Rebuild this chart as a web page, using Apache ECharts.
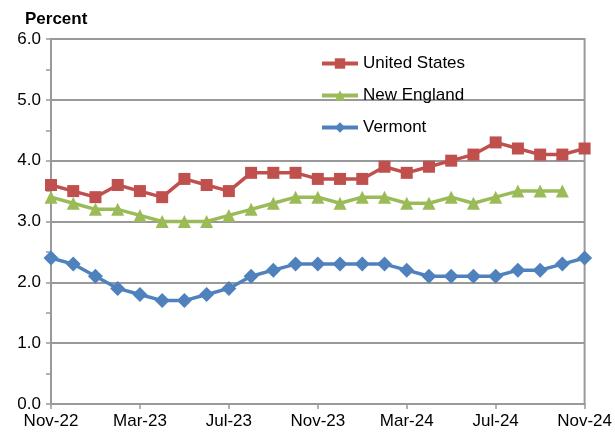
<!DOCTYPE html>
<html>
<head>
<meta charset="utf-8">
<script src="https://cdn.jsdelivr.net/npm/echarts@6/dist/echarts.min.js"></script>
<style>html,body{margin:0;padding:0;background:#fff}#c{width:615px;height:435px}</style>
</head>
<body>
<div id="c"></div>
<script>
var categories = ["Nov-22","Dec-22","Jan-23","Feb-23","Mar-23","Apr-23","May-23","Jun-23","Jul-23","Aug-23","Sep-23","Oct-23","Nov-23","Dec-23","Jan-24","Feb-24","Mar-24","Apr-24","May-24","Jun-24","Jul-24","Aug-24","Sep-24","Oct-24","Nov-24"];
var unitedStates = [3.6,3.5,3.4,3.6,3.5,3.4,3.7,3.6,3.5,3.8,3.8,3.8,3.7,3.7,3.7,3.9,3.8,3.9,4.0,4.1,4.3,4.2,4.1,4.1,4.2];
var newEngland = [3.4,3.3,3.2,3.2,3.1,3.0,3.0,3.0,3.1,3.2,3.3,3.4,3.4,3.3,3.4,3.4,3.3,3.3,3.4,3.3,3.4,3.5,3.5,3.5,null];
var vermont = [2.4,2.3,2.1,1.9,1.8,1.7,1.7,1.8,1.9,2.1,2.2,2.3,2.3,2.3,2.3,2.3,2.2,2.1,2.1,2.1,2.1,2.2,2.2,2.3,2.4];
var yTicks = [0,1,2,3,4,5,6];

var font = 'Liberation Sans, Arial, sans-serif';
var chart = echarts.init(document.getElementById('c'), null, {renderer:'canvas'});
chart.setOption({
  animation:false,
  backgroundColor:'#fff',
  title:{text:'Percent', left:20, top:6, textStyle:{fontFamily:font, fontSize:17, fontWeight:'bold', color:'#000'}},
  grid:{left:51, right:30, top:39, bottom:31, show:true, borderColor:'#999', borderWidth:2, backgroundColor:'transparent'},
  legend:{
    orient:'vertical', left:315, top:50, itemGap:15, itemWidth:36, itemHeight:13,
    lineStyle:{width:4},
    textStyle:{fontFamily:font, fontSize:17, color:'#000'},
    data:['United States','New England','Vermont']
  },
  xAxis:{
    type:'category', data:categories, boundaryGap:false,
    axisLine:{lineStyle:{color:'#999', width:2}},
    axisTick:{show:true, interval:3, length:5, lineStyle:{color:'#999', width:1.5}},
    axisLabel:{interval:3, margin:9, fontFamily:font, fontSize:17, color:'#000'},
    splitLine:{show:false}
  },
  yAxis:{
    type:'value', min:yTicks[0], max:yTicks[yTicks.length-1], interval:1,
    axisLine:{show:true, lineStyle:{color:'#999', width:2}},
    axisTick:{show:true, length:5, lineStyle:{color:'#999', width:1.5}},
    minorTick:{show:true, splitNumber:2, length:5, lineStyle:{color:'#999', width:1.5}},
    axisLabel:{margin:10, fontFamily:font, fontSize:17, color:'#000', formatter:function(v){return v.toFixed(1);}},
    splitLine:{show:true, lineStyle:{color:'#999', width:2}}
  },
  series:[
    {name:'United States', type:'line', data:unitedStates, symbol:'rect', symbolSize:12, showAllSymbol:true,
      lineStyle:{color:'#C0504D', width:3.5}, itemStyle:{color:'#C0504D'}},
    {name:'New England', type:'line', data:newEngland, symbol:'triangle', symbolSize:13, showAllSymbol:true,
      lineStyle:{color:'#9BBB59', width:3.5}, itemStyle:{color:'#9BBB59'}},
    {name:'Vermont', type:'line', data:vermont, symbol:'diamond', symbolSize:15, showAllSymbol:true,
      lineStyle:{color:'#4F81BD', width:3.5}, itemStyle:{color:'#4F81BD'}}
  ]
});
</script>
</body>
</html>
